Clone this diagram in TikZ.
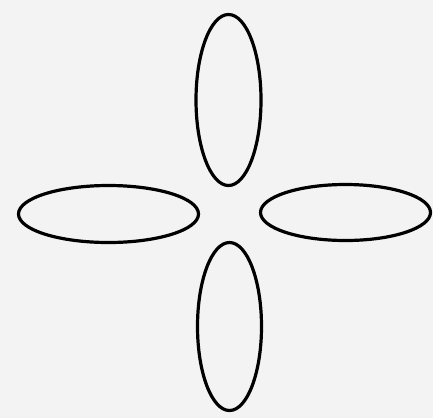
\documentclass[tikz,border=0pt]{standalone}
\usetikzlibrary{shapes.geometric}
\begin{document}
\begin{tikzpicture}[x=1pt,y=-1pt,
  petal/.style={draw=black,line width=3.2pt,ellipse,inner sep=0pt,outer sep=0pt}]
\fill[fill={rgb,255:red,243;green,243;blue,243}] (0,0) rectangle (433,418);
\useasboundingbox (0,0) rectangle (433,418);
\node[petal,minimum width=65pt,minimum height=171pt] (topE) at (228.5,100) {};
\node[petal,minimum width=64pt,minimum height=168pt] (botE) at (229.5,326.5) {};
\node[petal,minimum width=180pt,minimum height=57pt] (leftE) at (108.5,214) {};
\node[petal,minimum width=170pt,minimum height=56pt] (rightE) at (345.5,212.5) {};
\end{tikzpicture}
\end{document}
